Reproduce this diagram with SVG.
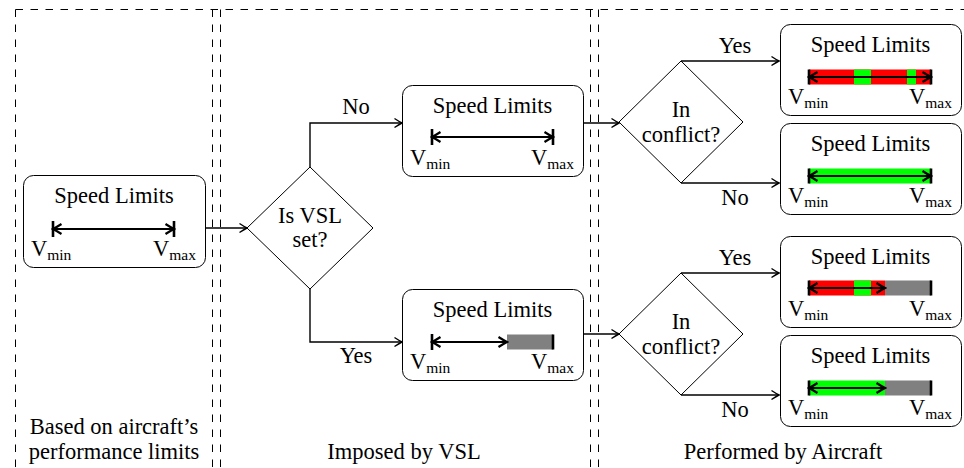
<svg xmlns="http://www.w3.org/2000/svg" width="964" height="468" viewBox="0 0 964 468">
<style>
.bg{fill:#fff}
.box{fill:#fff;stroke:#000;stroke-width:1}
.dia{fill:#fff;stroke:#000;stroke-width:1}
.t{font-family:"Liberation Serif",serif;font-size:22.5px;fill:#000;text-anchor:middle}
.v{font-family:"Liberation Serif",serif;font-size:22.5px;fill:#000}
.sub{font-size:15.5px}
.dash{stroke:#000;stroke-width:1;stroke-dasharray:7.5 7.5;fill:none}
.conn{stroke:#000;stroke-width:1.4;fill:none;marker-end:url(#ca)}
.spd{stroke:#000;stroke-width:2.2;fill:none;marker-start:url(#sa);marker-end:url(#sa)}
.tick{stroke:#000;stroke-width:2.6}
.red{fill:#ff0000}
.grn{fill:#00ff00}
.gry{fill:#808080}
</style>
<defs>
<marker id="ca" markerUnits="userSpaceOnUse" viewBox="-9 -6 11 12" refX="0" refY="0" markerWidth="11" markerHeight="12" orient="auto">
<path d="M-7.5,-4.5 Q-2.5,-1.2 0,0 Q-2.5,1.2 -7.5,4.5" fill="none" stroke="#000" stroke-width="1.4"/>
</marker>
<marker id="sa" markerUnits="userSpaceOnUse" viewBox="-10 -7 12 14" refX="0" refY="0" markerWidth="12" markerHeight="14" orient="auto-start-reverse">
<path d="M-8.5,-5 Q-3,-1.5 0,0 Q-3,1.5 -8.5,5" fill="none" stroke="#000" stroke-width="2.2"/>
</marker>
</defs>
<rect class="bg" x="0" y="0" width="964" height="468"/>
<g id="frames">
<path class="dash" d="M15.5,9.5 H964"/>
<path class="dash" d="M15.5,9.5 V468"/>
<path class="dash" d="M212.5,9.5 V468"/>
<path class="dash" d="M220.5,9.5 V468"/>
<path class="dash" d="M590.5,9.5 V468"/>
<path class="dash" d="M598.5,9.5 V468"/>
</g>
<g id="connectors">
<path class="conn" d="M205,228 H247"/>
<path class="conn" d="M310,167 V123 H402"/>
<path class="conn" d="M310,289 V342 H402"/>
<path class="conn" d="M583,123 H619"/>
<path class="conn" d="M583,334 H619"/>
<path class="conn" d="M681,61 H779"/>
<path class="conn" d="M681,183 H779"/>
<path class="conn" d="M681,273 H779"/>
<path class="conn" d="M681,395 H779"/>
<text class="t" x="356" y="114">No</text>
<text class="t" x="356" y="363">Yes</text>
<text class="t" x="735" y="53">Yes</text>
<text class="t" x="735" y="205">No</text>
<text class="t" x="735" y="265">Yes</text>
<text class="t" x="735" y="417">No</text>
</g>
<g id="aircraft-limits">
<rect class="box" x="23.5" y="175.5" width="182" height="92" rx="10"/>
<text class="t" x="114" y="203">Speed Limits</text>
<path class="spd" d="M53,229 H174"/>
<path class="tick" d="M53,221 V237 M174,221 V237"/>
<text class="v" x="31" y="256">V<tspan class="sub" dy="4">min</tspan></text>
<text class="v" x="196" y="256" text-anchor="end">V<tspan class="sub" dy="4">max</tspan></text>
</g>
<g id="is-vsl-set">
<polygon class="dia" points="310,167 373,228 310,289 247,228"/>
<text class="t" x="310" y="223">Is VSL</text>
<text class="t" x="310" y="247">set?</text>
</g>
<g id="vsl-no">
<rect class="box" x="402.5" y="85.5" width="181" height="91" rx="10"/>
<text class="t" x="492.5" y="113">Speed Limits</text>
<path class="spd" d="M432,137 H553"/>
<path class="tick" d="M432,129 V145 M553,129 V145"/>
<text class="v" x="410" y="165">V<tspan class="sub" dy="4">min</tspan></text>
<text class="v" x="574" y="165" text-anchor="end">V<tspan class="sub" dy="4">max</tspan></text>
</g>
<g id="vsl-yes">
<rect class="box" x="402.5" y="289.5" width="181" height="91" rx="10"/>
<text class="t" x="492.5" y="317">Speed Limits</text>
<rect class="gry" x="507" y="334.5" width="46" height="15"/>
<path class="spd" d="M432,342 H507"/>
<path class="tick" d="M432,334 V350 M553,334.5 V349.5"/>
<text class="v" x="410" y="369">V<tspan class="sub" dy="4">min</tspan></text>
<text class="v" x="574" y="369" text-anchor="end">V<tspan class="sub" dy="4">max</tspan></text>
</g>
<g id="conflict-upper">
<polygon class="dia" points="681,61 743,122 681,183 619,122"/>
<text class="t" x="681" y="117">In</text>
<text class="t" x="681" y="142">conflict?</text>
</g>
<g id="conflict-lower">
<polygon class="dia" points="681,273 743,334 681,395 619,334"/>
<text class="t" x="681" y="329">In</text>
<text class="t" x="681" y="354">conflict?</text>
</g>
<g id="result-1">
<rect class="box" x="780.5" y="24.5" width="181" height="91" rx="10"/>
<text class="t" x="870.5" y="52">Speed Limits</text>
<rect class="red" x="809" y="69.5" width="122" height="15"/>
<rect class="grn" x="854" y="69.5" width="17" height="15"/>
<rect class="grn" x="907" y="69.5" width="9" height="15"/>
<path class="spd" d="M809,77 H931"/>
<path class="tick" d="M809,69.5 V84.5 M931,69.5 V84.5"/>
<text class="v" x="788" y="104">V<tspan class="sub" dy="4">min</tspan></text>
<text class="v" x="952" y="104" text-anchor="end">V<tspan class="sub" dy="4">max</tspan></text>
</g>
<g id="result-2">
<rect class="box" x="780.5" y="123.5" width="181" height="91" rx="10"/>
<text class="t" x="870.5" y="151">Speed Limits</text>
<rect class="grn" x="809" y="168.5" width="122" height="15"/>
<path class="spd" d="M809,176 H931"/>
<path class="tick" d="M809,168.5 V183.5 M931,168.5 V183.5"/>
<text class="v" x="788" y="203">V<tspan class="sub" dy="4">min</tspan></text>
<text class="v" x="952" y="203" text-anchor="end">V<tspan class="sub" dy="4">max</tspan></text>
</g>
<g id="result-3">
<rect class="box" x="780.5" y="236.5" width="181" height="91" rx="10"/>
<text class="t" x="870.5" y="264">Speed Limits</text>
<rect class="red" x="809" y="280.5" width="76" height="15"/>
<rect class="grn" x="854" y="280.5" width="17" height="15"/>
<rect class="gry" x="885" y="280.5" width="46" height="15"/>
<path class="spd" d="M809,288 H885"/>
<path class="tick" d="M809,280.5 V295.5 M931,280.5 V295.5"/>
<text class="v" x="788" y="316">V<tspan class="sub" dy="4">min</tspan></text>
<text class="v" x="952" y="316" text-anchor="end">V<tspan class="sub" dy="4">max</tspan></text>
</g>
<g id="result-4">
<rect class="box" x="780.5" y="335.5" width="181" height="91" rx="10"/>
<text class="t" x="870.5" y="363">Speed Limits</text>
<rect class="grn" x="809" y="380.5" width="76" height="15"/>
<rect class="gry" x="885" y="380.5" width="46" height="15"/>
<path class="spd" d="M809,388 H885"/>
<path class="tick" d="M809,380.5 V395.5 M931,380.5 V395.5"/>
<text class="v" x="788" y="415">V<tspan class="sub" dy="4">min</tspan></text>
<text class="v" x="952" y="415" text-anchor="end">V<tspan class="sub" dy="4">max</tspan></text>
</g>
<g id="column-labels">
<text class="t" x="114" y="434">Based on aircraft’s</text>
<text class="t" x="114" y="459">performance limits</text>
<text class="t" x="404" y="459">Imposed by VSL</text>
<text class="t" x="783" y="459">Performed by Aircraft</text>
</g>
</svg>
